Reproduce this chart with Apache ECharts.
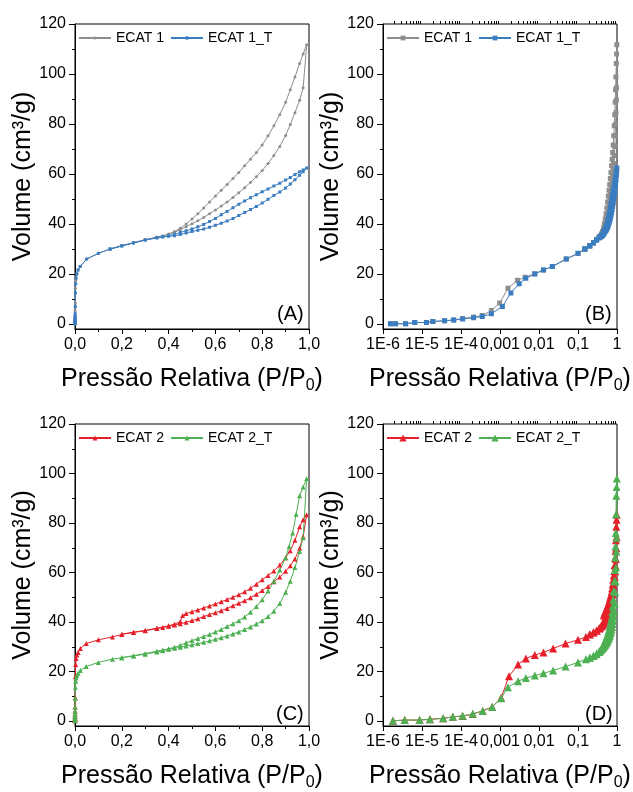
<!DOCTYPE html>
<html><head><meta charset="utf-8">
<script src="https://cdn.jsdelivr.net/npm/echarts@6/dist/echarts.min.js"></script>
<style>html,body{margin:0;padding:0;background:#fff}#c{width:633px;height:792px}</style>
</head><body><div id="c"></div>
<script>
// ---------- DATA (P/P0, volume cm3/g), adsorption then desorption ----------
const ecat1P = [1.55e-6,2.1e-6,3.8e-6,6.5e-6,1.3e-5,1.9e-5,3.8e-5,6.5e-5,1.1e-4,2.1e-4,3.5e-4,6.0e-4,9.8e-4,1.6e-3,2.8e-3,4.4e-3,7.8e-3,0.013,0.022,0.05,0.1,0.15,0.2,0.25,0.3,0.35,
  0.375,0.4,0.425,0.45,0.475,0.5,0.525,0.55,0.575,0.6,0.625,0.65,0.675,0.7,0.725,0.75,0.775,0.8,0.825,0.85,0.875,0.9,0.92,0.94,0.96,0.975,0.99,
  0.975,0.96,0.94,0.92,0.9,0.875,0.85,0.825,0.8,0.775,0.75,0.725,0.7,0.675,0.65,0.625,0.6,0.575,0.55,0.525,0.5,0.475,0.45,0.425,0.4,0.375,0.35,0.3,0.25,0.2,0.15];
const ecat1V = [0.1,0.1,0.1,0.6,0.6,1.0,1.3,1.6,2.2,2.8,3.4,5.4,8.4,14.3,17.5,18.7,20.1,21.6,23.0,26.0,28.2,30.0,31.3,32.5,33.7,34.8,
  35.2,35.9,36.7,37.7,38.9,40.1,41.3,42.6,44.1,45.6,47.2,48.8,50.6,52.5,54.5,56.7,58.9,61.4,64.2,67.4,71.0,75.4,79.8,84.5,89.5,94.5,111.7,
  108.0,104.2,98.8,93.7,88.7,83.7,79.3,75.3,71.6,68.6,65.9,63.3,60.6,58.2,55.8,53.5,51.2,48.8,46.4,44.1,42.0,40.0,38.3,37.0,36.0,35.2,34.6,33.7,32.5,31.3,30.0];

const ecat1tP = [1.55e-6,2.1e-6,3.8e-6,6.5e-6,1.3e-5,1.9e-5,3.8e-5,6.5e-5,1.1e-4,2.1e-4,3.5e-4,6.0e-4,1.15e-3,1.9e-3,3.1e-3,4.6e-3,7.8e-3,0.013,0.022,0.05,0.1,0.15,0.2,0.25,0.3,0.35,
  0.375,0.4,0.425,0.45,0.475,0.5,0.525,0.55,0.575,0.6,0.625,0.65,0.675,0.7,0.725,0.75,0.775,0.8,0.825,0.85,0.875,0.9,0.92,0.94,0.96,0.975,0.99,
  0.975,0.96,0.94,0.92,0.9,0.875,0.85,0.825,0.8,0.775,0.75,0.725,0.7,0.675,0.65,0.625,0.6,0.575,0.55,0.525,0.5,0.475,0.45,0.425,0.4,0.375,0.35,0.3,0.25,0.2,0.15];
const ecat1tV = [0.1,0.1,0.1,0.6,0.6,1.0,1.3,1.6,2.0,2.5,3.0,4.1,7.0,12.4,16.1,18.3,20.0,21.6,23.0,26.0,28.3,30.0,31.2,32.4,33.6,34.6,
  34.9,35.1,35.3,35.8,36.4,37.0,37.5,38.0,38.7,39.5,40.3,41.2,42.2,43.4,44.6,45.8,47.0,48.4,49.9,51.4,52.8,54.4,56.0,57.7,59.5,60.9,62.4,
  61.6,60.9,59.8,58.6,57.6,56.3,55.2,54.0,52.9,51.7,50.5,49.2,47.9,46.5,45.0,43.7,42.2,41.0,39.8,38.9,38.0,37.3,36.6,35.9,35.3,34.8,34.4,33.6,32.5,31.3,30.0];

const ecat2P = [1.8e-6,3.6e-6,8.7e-6,1.6e-5,3.5e-5,6.2e-5,1.1e-4,2.0e-4,3.6e-4,6.3e-4,1.07e-3,1.7e-3,2.9e-3,4.6e-3,7.8e-3,0.013,0.023,0.048,0.1,0.16,0.2,0.25,0.3,0.35,
  0.375,0.4,0.425,0.45,0.475,0.5,0.525,0.55,0.575,0.6,0.625,0.65,0.675,0.7,0.725,0.75,0.775,0.8,0.825,0.85,0.875,0.9,0.92,0.94,0.96,0.975,0.99,
  0.975,0.96,0.94,0.92,0.9,0.875,0.85,0.825,0.8,0.775,0.75,0.725,0.7,0.675,0.65,0.625,0.6,0.575,0.55,0.525,0.5,0.475,0.46,0.45,0.425,0.4,0.35,0.3,0.25,0.2];
const ecat2V = [0.1,0.4,0.4,0.7,1.1,1.7,2.0,2.8,4.1,5.7,9.4,18.1,22.8,25.3,26.7,27.7,29.3,31.3,32.8,34.0,35.0,35.8,36.5,37.4,
  37.8,38.3,38.8,39.3,39.9,40.6,41.3,42.2,43.0,43.8,44.6,45.5,46.6,47.6,48.6,49.8,51.2,52.7,54.4,56.3,58.2,60.5,62.7,65.5,69.8,74.5,83.3,
  81.3,78.5,73.0,68.8,66.0,63.0,60.6,58.8,57.1,55.3,53.6,52.2,51.0,50.0,49.1,48.2,47.3,46.5,45.7,44.9,44.2,43.4,42.6,40.2,39.1,38.5,37.5,36.6,35.9,35.1];

const ecat2tP = [1.8e-6,3.6e-6,8.7e-6,1.6e-5,3.5e-5,6.2e-5,1.1e-4,2.0e-4,3.6e-4,6.3e-4,1.07e-3,1.6e-3,2.9e-3,4.6e-3,7.8e-3,0.013,0.023,0.048,0.1,0.16,0.2,0.25,0.3,0.35,
  0.375,0.4,0.425,0.45,0.475,0.5,0.525,0.55,0.575,0.6,0.625,0.65,0.675,0.7,0.725,0.75,0.775,0.8,0.825,0.85,0.875,0.9,0.92,0.94,0.96,0.975,0.99,
  0.975,0.96,0.945,0.93,0.915,0.9,0.875,0.85,0.825,0.8,0.775,0.75,0.725,0.7,0.675,0.65,0.625,0.6,0.575,0.55,0.525,0.5,0.475,0.45,0.425,0.4,0.375,0.35,0.3,0.25,0.2];
const ecat2tV = [0.1,0.4,0.4,0.7,1.1,1.7,2.1,2.9,4.1,5.7,9.2,13.7,16.1,17.4,18.4,19.3,20.4,22.0,23.7,25.0,25.6,26.3,27.0,27.9,
  28.4,29.0,29.4,29.8,30.3,30.8,31.3,31.8,32.4,33.0,33.7,34.4,35.2,36.0,37.0,38.0,39.2,40.5,42.2,44.4,47.5,52.0,56.5,62.0,68.5,74.0,98.0,
  94.5,91.0,83.5,76.0,70.5,66.0,61.0,56.5,52.5,49.0,46.3,44.0,42.0,40.5,39.3,38.2,37.0,36.0,35.0,34.2,33.3,32.5,31.6,30.6,29.8,29.2,28.7,28.2,27.3,26.4,25.6];

// ---------- tick labels ----------
const yMajorTicks = [0,20,40,60,80,100,120];
const yMinorTicks = [10,30,50,70,90,110];
const logMajorTicks = [1e-6,1e-5,1e-4,1e-3,1e-2,1e-1,1];
const logTickLabels = ['1E-6','1E-5','1E-4','0,001','0,01','0,1','1'];
const logMinorTicks = [];
for (let e = -6; e < 0; e++) for (let m = 2; m <= 9; m++) logMinorTicks.push(m * Math.pow(10, e));
const panelLabels = ['(A)','(B)','(C)','(D)'];

// ---------- styling ----------
const FONT = '"Liberation Sans", Arial, sans-serif';
const GRAY = '#8e8e8e', BLUE = '#3a7dc0', RED = '#e6202a', GREEN = '#4db052';
const pairs = (P, V) => P.map((p, i) => [p, V[i]]);

const gridBoxes = [
  {left:75, top:24}, {left:383, top:24}, {left:75, top:424}, {left:383, top:424}
];
const grid = gridBoxes.map(b => ({left:b.left, top:b.top, width:234, height:305, show:true,
  borderColor:'#000', borderWidth:1, backgroundColor:'transparent', containLabel:false}));

const xName = 'Pressão Relativa (P/P{s|0})';
const xNameStyle = {fontSize:25, color:'#000', fontFamily:FONT,
  rich:{s:{fontSize:16, color:'#000', fontFamily:FONT, padding:[14,0,0,0]}}};
const lab = {fontSize:16, color:'#000', fontFamily:FONT};

function linX(g){
  return {type:'value', gridIndex:g, min:0, max:1, interval:0.2,
    axisLine:{show:true, onZero:false, lineStyle:{color:'#000', width:1}},
    axisTick:{show:true, inside:false, length:5, lineStyle:{color:'#000'}},
    minorTick:{show:true, splitNumber:2, length:3, lineStyle:{color:'#000'}},
    splitLine:{show:false}, minorSplitLine:{show:false},
    axisLabel:Object.assign({margin:8, formatter:v => v.toFixed(1).replace('.', ',')}, lab),
    name:xName, nameLocation:'middle', nameGap:35, nameTextStyle:xNameStyle};
}
function logX(g){
  return {type:'log', logBase:10, gridIndex:g, min:1e-6, max:1,
    axisLine:{show:true, onZero:false, lineStyle:{color:'#000', width:1}},
    axisTick:{show:true, inside:false, length:5, customValues:logMajorTicks, lineStyle:{color:'#000'}},
    splitLine:{show:false},
    axisLabel:Object.assign({margin:8, customValues:logMajorTicks,
      formatter:v => logTickLabels[Math.round(Math.log10(v)) + 6]}, lab),
    name:xName, nameLocation:'middle', nameGap:35, nameTextStyle:xNameStyle};
}
function logXMinor(g){
  return {type:'log', logBase:10, gridIndex:g, min:1e-6, max:1,
    axisLine:{show:false, onZero:false},
    axisTick:{show:true, inside:false, length:3, customValues:logMinorTicks, lineStyle:{color:'#000'}},
    axisLabel:{show:false}, splitLine:{show:false}};
}
function yMain(g){
  return {type:'value', gridIndex:g, min:-2, max:120, position:'left',
    axisLine:{show:true, onZero:false, lineStyle:{color:'#000', width:1}},
    axisTick:{show:true, inside:false, length:6, customValues:yMajorTicks, lineStyle:{color:'#000'}},
    splitLine:{show:false},
    axisLabel:Object.assign({margin:9, customValues:yMajorTicks}, lab),
    name:'Volume (cm³/g)', nameLocation:'middle', nameGap:34, nameRotate:90,
    nameTextStyle:{fontSize:25, color:'#000', fontFamily:FONT}};
}
function yMinor(g){
  return {type:'value', gridIndex:g, min:-2, max:120, position:'left',
    axisLine:{show:false, onZero:false},
    axisTick:{show:true, inside:false, length:3, customValues:yMinorTicks, lineStyle:{color:'#000'}},
    axisLabel:{show:false}, splitLine:{show:false}};
}

const xAxis = [linX(0), logX(1), logXMinor(1), linX(2), logX(3), logXMinor(3)];
const yAxis = [yMain(0), yMinor(0), yMain(1), yMinor(1), yMain(2), yMinor(2), yMain(3), yMinor(3)];

function ser(name, P, V, xi, yi, color, symbol, size){
  return {type:'line', name:name, xAxisIndex:xi, yAxisIndex:yi, data:pairs(P, V),
    symbol:symbol, symbolSize:size, showSymbol:true, showAllSymbol:true,
    lineStyle:{color:color, width:1}, itemStyle:{color:color}, emphasis:{disabled:true}};
}
const series = [
  ser('ECAT 1', ecat1P, ecat1V, 0, 0, GRAY, 'circle', 3),
  ser('ECAT 1_T', ecat1tP, ecat1tV, 0, 0, BLUE, 'rect', 3),
  ser('ECAT 1|B', ecat1P, ecat1V, 1, 2, GRAY, 'rect', 5),
  ser('ECAT 1_T|B', ecat1tP, ecat1tV, 1, 2, BLUE, 'rect', 5),
  ser('ECAT 2', ecat2P, ecat2V, 3, 4, RED, 'triangle', 5),
  ser('ECAT 2_T', ecat2tP, ecat2tV, 3, 4, GREEN, 'triangle', 5),
  ser('ECAT 2|D', ecat2P, ecat2V, 4, 6, RED, 'triangle', 8),
  ser('ECAT 2_T|D', ecat2tP, ecat2tV, 4, 6, GREEN, 'triangle', 8)
];

function leg(left, top, names, ih){
  return {left:left, top:top, orient:'horizontal', padding:0, itemGap:6, itemWidth:32, itemHeight:ih,
    selectedMode:false, data:names, formatter:n => n.split('|')[0],
    textStyle:{fontSize:14, color:'#000', fontFamily:FONT}};
}
const legend = [
  leg(78, 31, ['ECAT 1','ECAT 1_T'], 4),
  leg(386, 31, ['ECAT 1|B','ECAT 1_T|B'], 6),
  leg(78, 431, ['ECAT 2','ECAT 2_T'], 6),
  leg(386, 431, ['ECAT 2|D','ECAT 2_T|D'], 9)
];

const titlePos = [[277,304],[585,304],[276,704],[585,704]];
const title = panelLabels.map((t, i) => ({text:t, left:titlePos[i][0], top:titlePos[i][1], padding:0,
  textStyle:{fontSize:20, fontWeight:'normal', color:'#000', fontFamily:FONT}}));

const chart = echarts.init(document.getElementById('c'), null, {renderer:'canvas'});
chart.setOption({animation:false, backgroundColor:'#fff', title, legend, grid, xAxis, yAxis, series});
</script></body></html>
